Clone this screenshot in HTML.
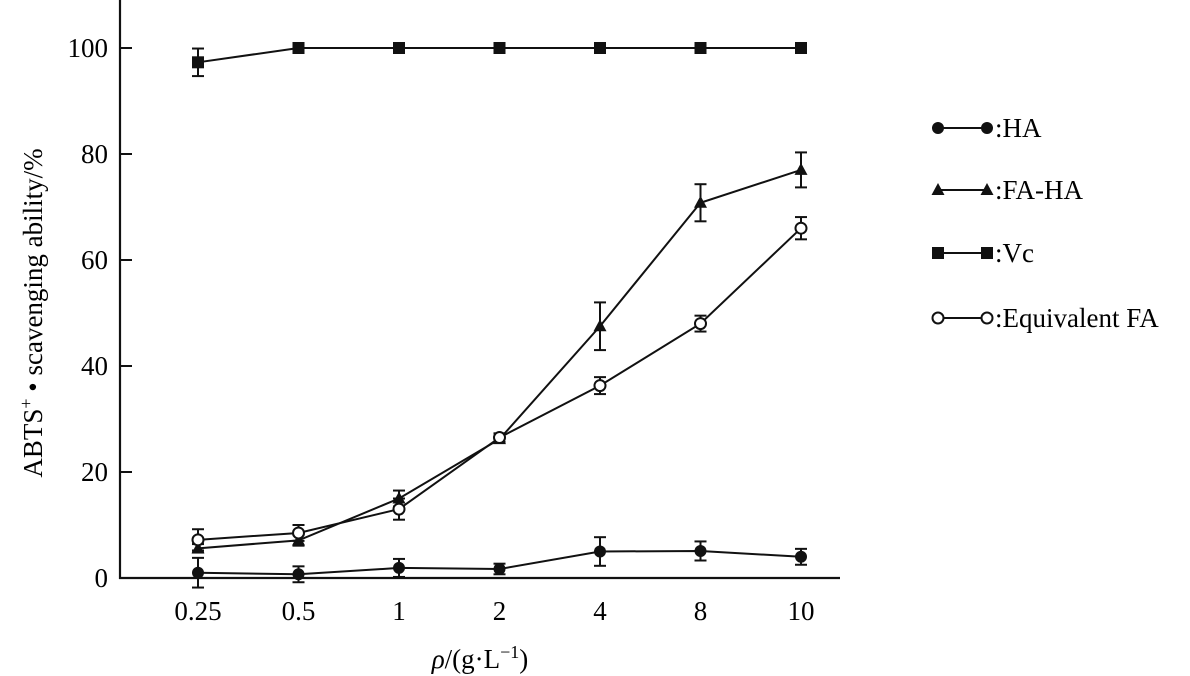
<!DOCTYPE html>
<html><head><meta charset="utf-8"><style>
body{margin:0;background:#fff;}
svg{display:block;font-family:"Liberation Serif",serif;}
</style></head><body>
<svg id="c" width="1190" height="676"></svg>
<script>
const categories=["0.25","0.5","1","2","4","8","10"];
const yTicks=[0,20,40,60,80,100];
const haValues=[1,0.7,1.9,1.7,5,5.1,4];
const haErr=[2.8,1.5,1.7,1,2.7,1.8,1.5];
const fahaValues=[5.6,7.1,15,26.2,47.5,70.8,77];
const fahaErr=[0.8,1,1.5,0.7,4.5,3.5,3.3];
const vcValues=[97.3,100,100,100,100,100,100];
const vcErr=[2.6,0,0,0,0,0,0];
const eqfaValues=[7.2,8.5,13,26.5,36.3,48,66];
const eqfaErr=[2,1.5,2,0.8,1.6,1.5,2.1];

const NS="http://www.w3.org/2000/svg";
const svg=document.getElementById('c');
function el(t,a,p){const e=document.createElementNS(NS,t);for(const k in a)e.setAttribute(k,a[k]);(p||svg).appendChild(e);return e;}
const x=i=>198+i*100.5;
const y=v=>578-5.3*v;

const ax=el('g',{});


el('line',{x1:120,y1:0,x2:120,y2:579,stroke:'#111','stroke-width':2.2},ax);
el('line',{x1:119,y1:578,x2:840,y2:578,stroke:'#111','stroke-width':2.2},ax);
yTicks.forEach(t=>{
  el('line',{x1:120,y1:y(t),x2:132,y2:y(t),stroke:'#111','stroke-width':2},ax);
  const tx=el('text',{x:108,y:y(t)+9,'text-anchor':'end','font-size':27},ax);
  tx.textContent=t;
  
  
});
categories.forEach((c,i)=>{
  const tx=el('text',{x:x(i),y:620,'text-anchor':'middle','font-size':27},ax);
  tx.textContent=c;
  
  
});
const xt=el('text',{x:480,y:668,'text-anchor':'middle','font-size':27});
xt.innerHTML='<tspan font-style="italic">ρ</tspan>/(g·L<tspan dy="-10" font-size="18">−1</tspan><tspan dy="10">)</tspan>';


const yt=el('text',{x:0,y:0,'text-anchor':'middle','font-size':27,transform:'translate(42,313) rotate(-90)'});
yt.innerHTML='ABTS<tspan dy="-10" font-size="18">+</tspan><tspan dy="10"> •  scavenging ability/%</tspan>';



function marker(g,type,cx,cy){
  if(type==='circle')el('circle',{cx,cy,r:6,fill:'#111'},g);
  else if(type==='open')el('circle',{cx,cy,r:5.5,fill:'#fff',stroke:'#111','stroke-width':2},g);
  else if(type==='square')el('rect',{x:cx-6,y:cy-6,width:12,height:12,fill:'#111'},g);
  else el('polygon',{points:`${cx},${cy-7} ${cx-6.5},${cy+5} ${cx+6.5},${cy+5}`,fill:'#111'},g);
}
function series(name,vals,errs,type){
  const g=el('g',{});
  
  
  el('polyline',{points:vals.map((v,i)=>x(i)+','+y(v)).join(' '),fill:'none',stroke:'#111','stroke-width':2},g);
  vals.forEach((v,i)=>{
    const e=errs[i];
    if(e>0){
      el('line',{x1:x(i),y1:y(v-e),x2:x(i),y2:y(v+e),stroke:'#111','stroke-width':2},g);
      el('line',{x1:x(i)-6,y1:y(v+e),x2:x(i)+6,y2:y(v+e),stroke:'#111','stroke-width':2},g);
      el('line',{x1:x(i)-6,y1:y(v-e),x2:x(i)+6,y2:y(v-e),stroke:'#111','stroke-width':2},g);
    }
    marker(g,type,x(i),y(v));
  });
}
series('vc',vcValues,vcErr,'square');
series('faha',fahaValues,fahaErr,'tri');
series('eqfa',eqfaValues,eqfaErr,'open');
series('ha',haValues,haErr,'circle');

const leg=[['HA','circle',128],['FA-HA','tri',190],['Vc','square',253],['Equivalent FA','open',318]];
leg.forEach(l=>{
  const g=el('g',{});
  
  
  el('line',{x1:938,y1:l[2],x2:987,y2:l[2],stroke:'#111','stroke-width':2},g);
  marker(g,l[1],938,l[2]);marker(g,l[1],987,l[2]);
  const t=el('text',{x:995,y:l[2]+9,'font-size':27},g);
  t.textContent=':'+l[0];
});
</script>
</body></html>
